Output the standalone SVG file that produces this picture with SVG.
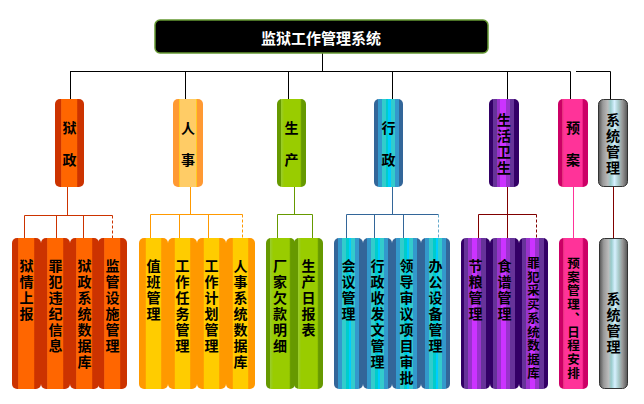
<svg xmlns="http://www.w3.org/2000/svg" width="644" height="404" viewBox="0 0 644 404">
<defs>
<linearGradient id="gOr" x1="0" x2="1" y1="0" y2="0">
<stop offset="0" stop-color="#CC3300"/><stop offset="0.2" stop-color="#CC3300"/><stop offset="0.2" stop-color="#E65C1A"/><stop offset="0.24" stop-color="#FF6600"/><stop offset="0.76" stop-color="#FF6600"/><stop offset="0.78" stop-color="#CC3300"/><stop offset="1" stop-color="#CC3300"/>
</linearGradient>
<linearGradient id="gYe" x1="0" x2="1" y1="0" y2="0">
<stop offset="0" stop-color="#FF9933"/><stop offset="0.2" stop-color="#FF9933"/><stop offset="0.2" stop-color="#FFCC00"/><stop offset="0.25" stop-color="#FFCC66"/><stop offset="0.75" stop-color="#FFCC66"/><stop offset="0.8" stop-color="#FFCC00"/><stop offset="0.8" stop-color="#FF9933"/><stop offset="1" stop-color="#FF9933"/>
</linearGradient>
<linearGradient id="gYe2" x1="0" x2="1" y1="0" y2="0">
<stop offset="0" stop-color="#FF9900"/><stop offset="0.22" stop-color="#FF9900"/><stop offset="0.24" stop-color="#FFCC00"/><stop offset="0.76" stop-color="#FFCC00"/><stop offset="0.78" stop-color="#FF9900"/><stop offset="1" stop-color="#FF9900"/>
</linearGradient>
<linearGradient id="gGr" x1="0" x2="1" y1="0" y2="0">
<stop offset="0" stop-color="#669900"/><stop offset="0.13" stop-color="#669900"/><stop offset="0.13" stop-color="#99CC33"/><stop offset="0.25" stop-color="#99CC00"/><stop offset="0.8" stop-color="#99CC00"/><stop offset="0.85" stop-color="#669900"/><stop offset="1" stop-color="#669900"/>
</linearGradient>
<linearGradient id="gBl" x1="0" x2="1" y1="0" y2="0">
<stop offset="0" stop-color="#336699"/><stop offset="0.13" stop-color="#336699"/><stop offset="0.13" stop-color="#3399CC"/><stop offset="0.27" stop-color="#3399CC"/><stop offset="0.27" stop-color="#33CCCC"/><stop offset="0.4" stop-color="#33CCCC"/><stop offset="0.4" stop-color="#00CCCC"/><stop offset="0.5" stop-color="#00CCCC"/><stop offset="0.5" stop-color="#00CCFF"/><stop offset="0.6" stop-color="#00CCFF"/><stop offset="0.6" stop-color="#33CCCC"/><stop offset="0.72" stop-color="#33CCCC"/><stop offset="0.72" stop-color="#3399CC"/><stop offset="0.85" stop-color="#3399CC"/><stop offset="0.85" stop-color="#336699"/><stop offset="1" stop-color="#336699"/>
</linearGradient>
<linearGradient id="gPu" x1="0" x2="1" y1="0" y2="0">
<stop offset="0" stop-color="#330066"/><stop offset="0.12" stop-color="#330066"/><stop offset="0.12" stop-color="#663399"/><stop offset="0.25" stop-color="#663399"/><stop offset="0.25" stop-color="#9933CC"/><stop offset="0.38" stop-color="#9933CC"/><stop offset="0.38" stop-color="#CC33FF"/><stop offset="0.55" stop-color="#CC33FF"/><stop offset="0.55" stop-color="#9933CC"/><stop offset="0.7" stop-color="#9933CC"/><stop offset="0.7" stop-color="#663399"/><stop offset="0.85" stop-color="#663399"/><stop offset="0.85" stop-color="#330066"/><stop offset="1" stop-color="#330066"/>
</linearGradient>
<linearGradient id="gPk" x1="0" x2="1" y1="0" y2="0">
<stop offset="0" stop-color="#CC0066"/><stop offset="0.15" stop-color="#CC0066"/><stop offset="0.15" stop-color="#E6337F"/><stop offset="0.2" stop-color="#FF3399"/><stop offset="0.8" stop-color="#FF3399"/><stop offset="0.85" stop-color="#CC0066"/><stop offset="1" stop-color="#CC0066"/>
</linearGradient>
<linearGradient id="gGy" x1="0" x2="1" y1="0" y2="0">
<stop offset="0" stop-color="#555555"/><stop offset="0.15" stop-color="#999999"/><stop offset="0.32" stop-color="#BBBBBB"/><stop offset="0.42" stop-color="#99CCCC"/><stop offset="0.55" stop-color="#D6F0FF"/><stop offset="0.68" stop-color="#AACCCC"/><stop offset="0.82" stop-color="#999999"/><stop offset="1" stop-color="#555555"/>
</linearGradient>
</defs>
<style>
.t{font-family:"Noto Sans CJK SC","Noto Sans",sans-serif;font-weight:bold;font-size:14px;fill:#000}
.h{text-anchor:middle;dominant-baseline:central}
.v{writing-mode:vertical-rl;text-anchor:start;letter-spacing:2px}
.w{letter-spacing:18px}
.ts{font-size:12.5px;letter-spacing:1.25px}
.c{fill:none;stroke-width:1}
.k{stroke:#000}
.bx{stroke:none}
.gy{stroke:#333;stroke-width:1}
</style>

<g id="connectors">
<path class="c k" d="M322.5,53 V71.5 M70,71.5 H570.5 M70.5,71.5 V99 M185.5,71.5 V99 M288.5,71.5 V99 M392.5,71.5 V99 M507.5,71.5 V99 M570.5,71.5 V99 M576,71.5 H610.5 V99"/>
<path class="c" stroke="#CC3300" d="M67.5,187 V215.5 M24.5,215.5 H112.5 M24.5,215.5 V238 M56.5,215.5 V238 M83.5,215.5 V238"/>
<path class="c" stroke="#CC3300" stroke-dasharray="3,2" d="M112.5,215.5 V238"/>
<path class="c" stroke="#FF9900" d="M190.5,187 V214.5 M150.5,214.5 H242.5 M150.5,214.5 V238 M179.5,214.5 V238 M208.5,214.5 V238"/>
<path class="c" stroke="#FF9900" stroke-dasharray="3,2" d="M242.5,214.5 V238"/>
<path class="c" stroke="#669900" d="M294.5,187 V214.5 M277.5,214.5 H312.5 M277.5,214.5 V238 M312.5,214.5 V238"/>
<path class="c" stroke="#336699" d="M392.5,187 V214.5 M346.5,214.5 H438.5 M346.5,214.5 V238 M374.5,214.5 V238 M403.5,214.5 V238"/>
<path class="c" stroke="#66AACC" stroke-dasharray="3,2" d="M438.5,214.5 V238"/>
<path class="c" stroke="#800000" d="M507.5,187 V214.5 M478.5,214.5 H536.5 M478.5,214.5 V238 M507.5,214.5 V238"/>
<path class="c" stroke="#800000" stroke-dasharray="3,2" d="M536.5,214.5 V238"/>
<path class="c" stroke="#FF3399" d="M573.5,187 V238"/>
<path class="c" stroke="#800000" d="M613.5,187 V238"/>
</g>

<g id="root">
<rect x="155" y="20" width="333" height="33" rx="5" fill="#000" stroke="#669933" stroke-width="1.5"/>
<text class="t h" x="321" y="37" style="fill:#fff;font-size:15px">监狱工作管理系统</text>
</g>

<g id="n-yuzheng">
<rect class="bx" x="55" y="99" width="29" height="88" rx="5" fill="url(#gOr)"/>
<text class="t v w" x="69.5" y="121">狱政</text>
</g>
<g id="n-renshi">
<rect class="bx" x="173" y="99" width="30" height="88" rx="5" fill="url(#gYe)"/>
<text class="t v w" x="188" y="121">人事</text>
</g>
<g id="n-shengchan">
<rect class="bx" x="277" y="99" width="29" height="88" rx="5" fill="url(#gGr)"/>
<text class="t v w" x="291.5" y="121">生产</text>
</g>
<g id="n-xingzheng">
<rect class="bx" x="374" y="99" width="29" height="88" rx="5" fill="url(#gBl)"/>
<text class="t v w" x="388.5" y="121">行政</text>
</g>
<g id="n-shenghuo">
<rect class="bx" x="489" y="99" width="30" height="88" rx="5" fill="url(#gPu)"/>
<text class="t v" x="504" y="113">生活卫生</text>
</g>
<g id="n-yuan">
<rect class="bx" x="558" y="99" width="30" height="88" rx="5" fill="url(#gPk)"/>
<text class="t v w" x="573" y="121">预案</text>
</g>
<g id="n-xitong">
<rect class="gy" x="598.5" y="99.5" width="29" height="87" rx="5" fill="url(#gGy)"/>
<text class="t v" x="613" y="113">系统管理</text>
</g>

<g id="l-yqsb">
<rect class="bx" x="12" y="238" width="29" height="151" rx="5" fill="url(#gOr)"/>
<text class="t v" x="26.5" y="259">狱情上报</text>
</g>
<g id="l-zfwj">
<rect class="bx" x="41" y="238" width="29" height="151" rx="5" fill="url(#gOr)"/>
<text class="t v" x="55.5" y="259">罪犯违纪信息</text>
</g>
<g id="l-yzsj">
<rect class="bx" x="70" y="238" width="29" height="151" rx="5" fill="url(#gOr)"/>
<text class="t v" x="84.5" y="259">狱政系统数据库</text>
</g>
<g id="l-jgss">
<rect class="bx" x="98" y="238" width="29" height="151" rx="5" fill="url(#gOr)"/>
<text class="t v" x="112.5" y="259">监管设施管理</text>
</g>

<g id="l-zbgl">
<rect class="bx" x="139" y="238" width="29" height="151" rx="5" fill="url(#gYe2)"/>
<text class="t v" x="153.5" y="259">值班管理</text>
</g>
<g id="l-gzrw">
<rect class="bx" x="168" y="238" width="29" height="151" rx="5" fill="url(#gYe2)"/>
<text class="t v" x="182.5" y="259">工作任务管理</text>
</g>
<g id="l-gzjh">
<rect class="bx" x="197" y="238" width="29" height="151" rx="5" fill="url(#gYe2)"/>
<text class="t v" x="211.5" y="259">工作计划管理</text>
</g>
<g id="l-rssj">
<rect class="bx" x="226" y="238" width="29" height="151" rx="5" fill="url(#gYe2)"/>
<text class="t v" x="240.5" y="259">人事系统数据库</text>
</g>

<g id="l-cjqk">
<rect class="bx" x="266" y="238" width="29" height="151" rx="5" fill="url(#gGr)"/>
<text class="t v" x="280" y="259">厂家欠款明细</text>
</g>
<g id="l-scrb">
<rect class="bx" x="294" y="238" width="29" height="151" rx="5" fill="url(#gGr)"/>
<text class="t v" x="308.5" y="259">生产日报表</text>
</g>

<g id="l-hygl">
<rect class="bx" x="334" y="238" width="29" height="151" rx="5" fill="url(#gBl)"/>
<text class="t v" x="348.5" y="259">会议管理</text>
</g>
<g id="l-xzsf">
<rect class="bx" x="363" y="238" width="29" height="151" rx="5" fill="url(#gBl)"/>
<text class="t v" x="377.5" y="259">行政收发文管理</text>
</g>
<g id="l-ldsy">
<rect class="bx" x="392" y="238" width="29" height="151" rx="5" fill="url(#gBl)"/>
<text class="t v" x="406.5" y="259">领导审议项目审批</text>
</g>
<g id="l-bgsb">
<rect class="bx" x="421" y="238" width="29" height="151" rx="5" fill="url(#gBl)"/>
<text class="t v" x="435.5" y="259">办公设备管理</text>
</g>

<g id="l-jlgl">
<rect class="bx" x="461" y="238" width="29" height="151" rx="5" fill="url(#gPu)"/>
<text class="t v" x="475.5" y="259">节粮管理</text>
</g>
<g id="l-spgl">
<rect class="bx" x="490" y="238" width="29" height="151" rx="5" fill="url(#gPu)"/>
<text class="t v" x="504.5" y="259">食谱管理</text>
</g>
<g id="l-zfcm">
<rect class="bx" x="519" y="238" width="29" height="151" rx="5" fill="url(#gPu)"/>
<text class="t v ts" x="533.5" y="256.75">罪犯采买系统数据库</text>
</g>

<g id="l-yagl">
<rect class="bx" x="559" y="238" width="29" height="151" rx="5" fill="url(#gPk)"/>
<text class="t v ts" x="573.5" y="256.75">预案管理、日程安排</text>
</g>

<g id="l-xtgl">
<rect class="gy" x="599.5" y="238.5" width="28" height="150" rx="5" fill="url(#gGy)"/>
<text class="t v" x="613.5" y="292">系统管理</text>
</g>
</svg>
